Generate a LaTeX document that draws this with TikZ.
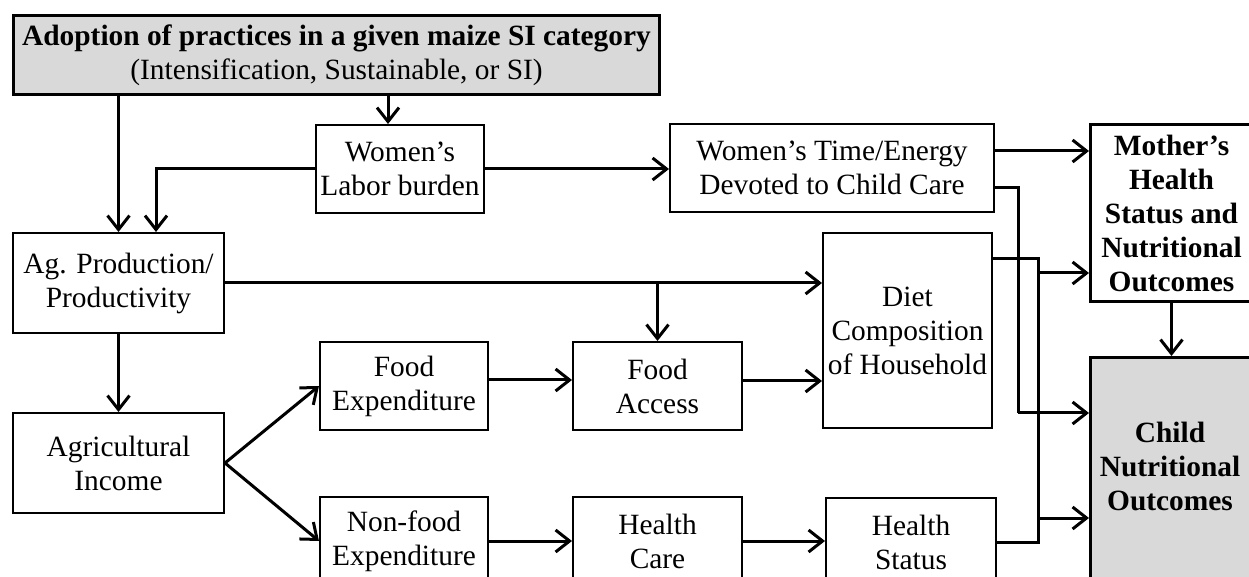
\documentclass[tikz,border=0pt]{standalone}
\usepackage{fontspec}
\setmainfont{Liberation Serif}
\usetikzlibrary{arrows.meta}
\definecolor{boxgray}{RGB}{217,217,217}
\begin{document}
\begin{tikzpicture}[x=0.5pt,y=-0.5pt,
  every node/.style={font=\fontsize{14.7}{17}\selectfont, align=center, inner sep=0pt},
  box/.style={draw, line width=1pt, anchor=north west},
  heavybox/.style={draw, line width=1.5pt, anchor=north west},
  conn/.style={line width=1.5pt},
  arr/.style={conn, -{Straight Barb[length=7pt,width=11pt]}}]
\useasboundingbox (0,0) rectangle (1249,577);
\clip (0,0) rectangle (1249,577);
% nodes
\node[heavybox, fill=boxgray, minimum width=323pt, minimum height=39.5pt] (top) at (12,14)
  {{\bfseries Adoption of practices in a given maize SI category}\\(Intensification, Sustainable, or SI)};
\node[box, minimum width=84pt, minimum height=44pt] (wlab) at (315,124) {Women’s\\Labor burden};
\node[box, minimum width=162pt, minimum height=44pt] (wtime) at (669,123) {Women’s Time/Energy\\Devoted to Child Care};
\node[heavybox, minimum width=81pt, minimum height=88.5pt, font=\fontsize{14.7}{17}\selectfont\bfseries] (mother) at (1089,123)
  {Mother’s\\Health\\Status and\\Nutritional\\Outcomes};
\node[box, minimum width=105.5pt, minimum height=50pt] (agprod) at (12,232) {Ag. Production/\\Productivity};
\node[box, minimum width=84.5pt, minimum height=97.5pt] (diet) at (822,232) {Diet\\Composition\\of Household};
\node[box, minimum width=105.5pt, minimum height=50pt] (agincome) at (12,412) {Agricultural\\Income};
\node[box, minimum width=84pt, minimum height=44pt] (foodexp) at (319,341) {Food\\Expenditure};
\node[box, minimum width=84.5pt, minimum height=44pt] (foodacc) at (572,341) {Food\\Access};
\node[box, minimum width=84pt, minimum height=44pt] (nonfood) at (319,496) {Non-food\\Expenditure};
\node[box, minimum width=84.5pt, minimum height=44pt] (healthcare) at (572,496) {Health\\Care};
\node[box, minimum width=85pt, minimum height=44pt] (healthstatus) at (825,497) {Health\\Status};
\node[heavybox, fill=boxgray, minimum width=85pt, minimum height=120pt] (child) at (1089,356) {};
\node[font=\fontsize{14.7}{17}\selectfont\bfseries] (childtxt) at (1170,466) {Child\\Nutritional\\Outcomes};
% junction coordinates
\coordinate (j1) at (1018,413);
\coordinate (j2) at (1038,273);
\coordinate (j3) at (1038,518);
% connectors
\draw[arr] (top.south -| agprod.north) -- (agprod.north);
\draw[arr] ([xshift=-6pt]wlab.north |- top.south) -- ([xshift=-6pt]wlab.north);
\draw[arr] (wlab.west) -| ([xshift=18.75pt]agprod.north);
\draw[arr] (wlab.east) -- (wlab.east -| wtime.west);
\draw[arr] ([yshift=8.5pt]wtime.east) -- ([yshift=8.5pt]wtime.east -| mother.west);
\draw[conn] ([yshift=-10pt]wtime.east) -| (j1);
\draw[arr] (j1) -- (j1 -| child.west);
\draw[conn] ([yshift=35.75pt]diet.east) -| (healthstatus.east -| j2) -- (healthstatus.east);
\draw[arr] (j2) -- (j2 -| mother.west);
\draw[arr] (j3) -- (j3 -| child.west);
\draw[arr] (agprod.east) -- (agprod.east -| diet.west);
\draw[arr] (agprod.east -| foodacc.north) -- (foodacc.north);
\draw[arr] (agprod.south) -- (agincome.north);
\draw[arr] (agincome.east) -- (foodexp.west);
\draw[arr] (agincome.east) -- (nonfood.west);
\draw[arr] ([yshift=3pt]foodexp.east) -- ([yshift=3pt]foodacc.west);
\draw[arr] ([yshift=2.5pt]foodacc.east) -- ([yshift=2.5pt]foodacc.east -| diet.west);
\draw[arr] (nonfood.east) -- (healthcare.west);
\draw[arr] (healthcare.east) -- (healthcare.east -| healthstatus.west);
\draw[arr] (mother.south) -- (mother.south |- child.north);
\end{tikzpicture}
\end{document}
